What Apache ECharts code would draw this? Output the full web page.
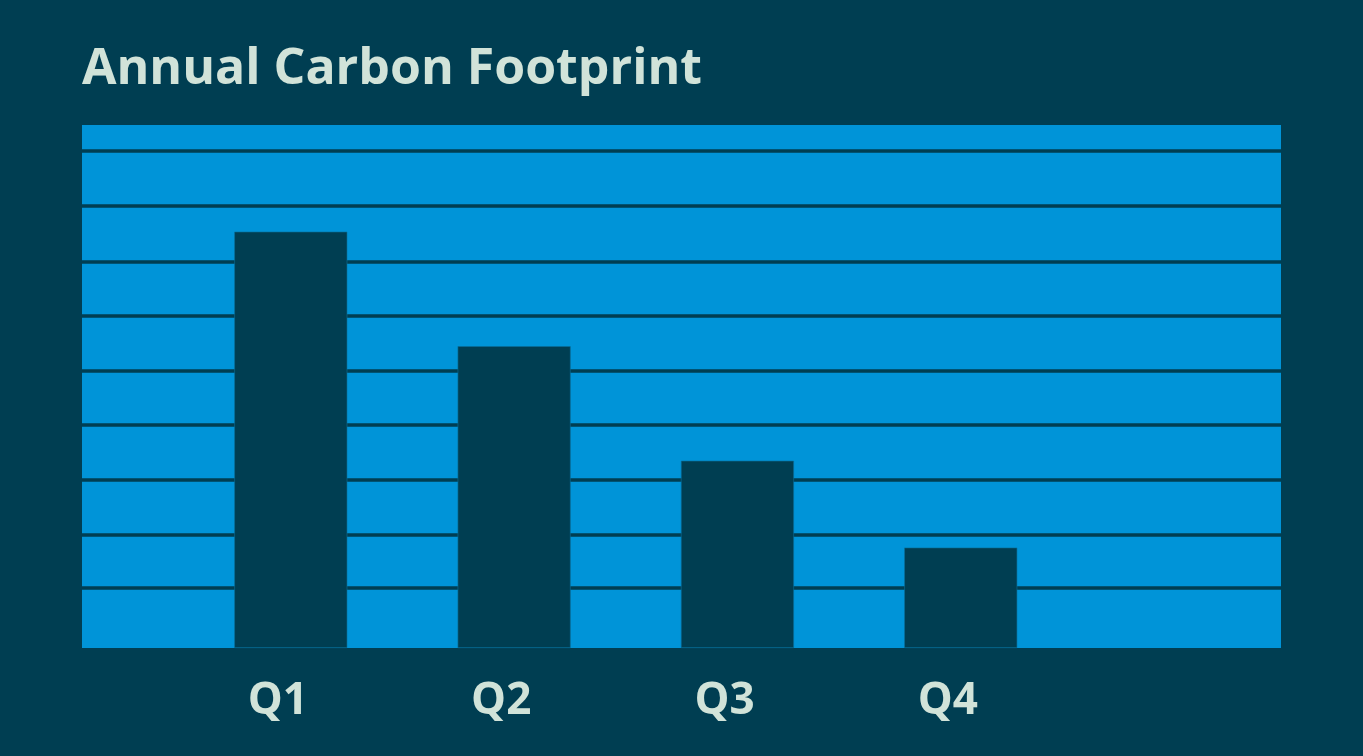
<!DOCTYPE html>
<html>
<head>
<meta charset="utf-8">
<script src="https://cdn.jsdelivr.net/npm/echarts@6/dist/echarts.min.js"></script>
<style>html,body{margin:0;padding:0;background:#003e52;}#c{width:1363px;height:756px;}</style>
</head>
<body>
<div id="c"></div>
<script>
const categories = ['Q1', 'Q2', 'Q3', 'Q4'];
const footprint = [79.6, 57.7, 35.8, 19.2];
const gridLineValues = [11.5, 21.7, 32.2, 42.6, 53.0, 63.5, 73.9, 84.5, 95.0];

const chart = echarts.init(document.getElementById('c'));
chart.setOption({
  backgroundColor: '#003e52',
  animation: false,
  title: {
    text: 'Annual Carbon Footprint',
    left: 77, top: 40,
    textStyle: { color: '#d1e3d9', fontFamily: 'Open Sans', fontWeight: 'bold', fontSize: 50 }
  },
  grid: {
    left: 82, right: 82, top: 125, bottom: 108,
    show: true, backgroundColor: '#0094d8', borderWidth: 0
  },
  xAxis: {
    type: 'value', min: 0.065, max: 5.434,
    axisLine: { show: false }, axisTick: { show: false }, splitLine: { show: false },
    axisLabel: {
      customValues: [1, 2, 3, 4],
      formatter: v => categories[Math.round(v) - 1] || '',
      align: 'left',
      padding: [0, 0, 0, -43],
      margin: 31,
      color: '#d1e3d9', fontFamily: 'Open Sans', fontWeight: 'bold', fontSize: 44
    }
  },
  yAxis: {
    type: 'value', min: 0, max: 100,
    axisLine: { show: false },
    axisLabel: { show: false },
    axisTick: { show: false, customValues: gridLineValues },
    splitLine: { show: true, lineStyle: { color: '#003e52', width: 3.5 } }
  },
  series: [{
    type: 'bar',
    barWidth: 113,
    data: categories.map((c, i) => [i + 1, footprint[i]]),
    itemStyle: { color: '#003e52', borderColor: '#0a6f99', borderWidth: 0.6 }
  }]
});
</script>
</body>
</html>
